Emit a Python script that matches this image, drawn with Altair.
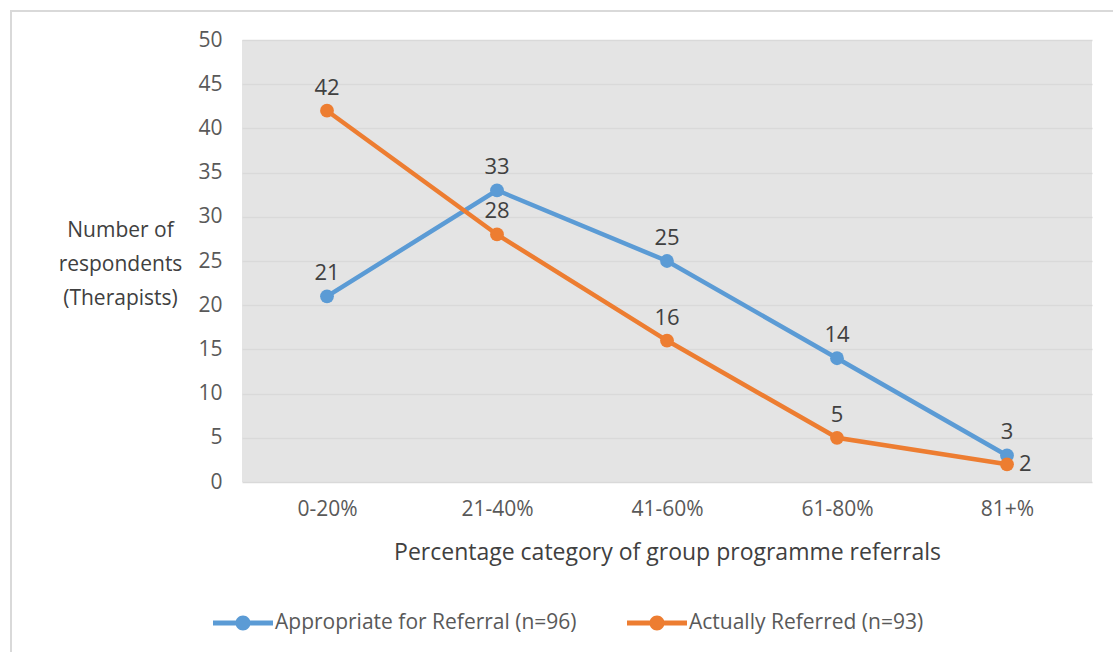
import altair as alt
import pandas as pd

categories = ["0-20%", "21-40%", "41-60%", "61-80%", "81+%"]
appropriate = [21, 33, 25, 14, 3]
actually = [42, 28, 16, 5, 2]
series_names = ["Appropriate for Referral (n=96)", "Actually Referred (n=93)"]
colors = ["#5B9BD5", "#ED7D31"]
y_ticks = [0, 5, 10, 15, 20, 25, 30, 35, 40, 45, 50]

rows = []
for i, c in enumerate(categories):
    rows.append({"cat": c, "value": appropriate[i], "series": series_names[0], "right": False})
for i, c in enumerate(categories):
    rows.append({"cat": c, "value": actually[i], "series": series_names[1],
                 "right": i == len(categories) - 1})
df = pd.DataFrame(rows)

FONT = "Open Sans"
color_scale = alt.Scale(domain=series_names, range=colors)

x = alt.X("cat:N", sort=categories, scale=alt.Scale(type="point", padding=0.5),
          axis=alt.Axis(title="Percentage category of group programme referrals",
                        labelAngle=0, labelFontSize=21, labelColor="#595959",
                        labelPadding=16, ticks=False, domain=False, grid=False,
                        titleFontSize=23, titleColor="#404040", titleFontWeight="normal",
                        titleY=70, titleBaseline="middle"))
y = alt.Y("value:Q", scale=alt.Scale(domain=[0, 50], nice=False),
          axis=alt.Axis(values=y_ticks, title=["Number of", "respondents", "(Therapists)"],
                        labelFontSize=21, labelColor="#595959", labelPadding=20,
                        ticks=False, domain=False, gridColor="#d9d9d9", gridWidth=1.5,
                        titleAngle=0, titleX=-122, titleY=190, titleAlign="center",
                        titleBaseline="middle", titleFontSize=21, titleColor="#404040",
                        titleFontWeight="normal", titleLineHeight=34))

legend_path = ("M-1,-0.085 L1,-0.085 L1,0.085 L-1,0.085 Z "
               "M0.25,0 A0.25,0.25 0 1,1 -0.25,0 A0.25,0.25 0 1,1 0.25,0 Z")

legend = alt.Legend(title=None, orient="none", legendX=-29, legendY=553,
                    direction="horizontal", symbolType=legend_path,
                    symbolSize=3600, symbolStrokeWidth=0, symbolOpacity=1,
                    labelFontSize=21, labelColor="#595959",
                    labelOffset=2, columnPadding=50, labelLimit=500)

color = alt.Color("series:N", scale=color_scale, sort=series_names, legend=legend)

base = alt.Chart(df)

line = base.mark_line(strokeWidth=4.5).encode(x=x, y=y, color=color)

points = base.mark_point(filled=True, size=190, opacity=1).encode(x=x, y=y, color=color)

labels_above = base.transform_filter("!datum.right").mark_text(
    dy=-23, fontSize=22, color="#404040", font=FONT).encode(
    x=x, y=y, text="value:Q")

labels_right = base.transform_filter("datum.right").mark_text(
    dx=12, align="left", baseline="middle", fontSize=22, color="#404040", font=FONT).encode(
    x=x, y=y, text="value:Q")

border = alt.Chart(pd.DataFrame({"a": [0]})).mark_rect(
    fill="transparent", stroke="#d9d9d9", strokeWidth=2, clip=False).encode(
    x=alt.value(-231), x2=alt.value(900), y=alt.value(-29), y2=alt.value(700))

chart = alt.layer(border, line, points, labels_above, labels_right).properties(
    width=850, height=442,
    autosize=alt.AutoSizeParams(type="none"),
    padding={"left": 242, "top": 40, "right": 21, "bottom": 170},
).configure(font=FONT).configure_view(fill="#e4e4e4", stroke=None)

chart.save("out.html", embed_options={"renderer": "svg", "actions": False})
